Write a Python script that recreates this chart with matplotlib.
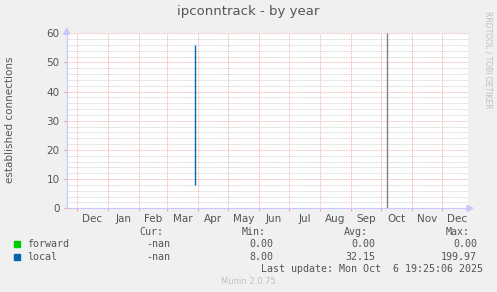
import matplotlib
matplotlib.use("Agg")
import matplotlib.pyplot as plt
import matplotlib.dates as mdates
import numpy as np
from datetime import datetime, timedelta

title = "ipconntrack - by year"
ylabel = "established connections"
x_start = "2024-11-20 16:00"
x_end = "2025-12-27 00:00"
month_bounds = ["2024-12-01", "2025-01-01", "2025-02-01", "2025-03-01", "2025-04-01",
                "2025-05-01", "2025-06-01", "2025-07-01", "2025-08-01", "2025-09-01",
                "2025-10-01", "2025-11-01", "2025-12-01", "2026-01-01"]
month_labels = ["Dec", "Jan", "Feb", "Mar", "Apr", "May", "Jun", "Jul", "Aug", "Sep", "Oct", "Nov", "Dec"]
y_major = [0, 10, 20, 30, 40, 50, 60]
local_dates = ["2025-03-29"]
local_low = [8]
local_high = [56]
forward_dates = ["2025-03-29"]
forward_vals = [0]
now_date = "2025-10-06 19:25"
legend_names = ["forward", "local"]
legend_colors = ["#00CC00", "#0066B3"]
cur_vals = ["-nan", "-nan"]
min_vals = ["0.00", "8.00"]
avg_vals = ["0.00", "32.15"]
max_vals = ["0.00", "199.97"]
last_update = "Last update: Mon Oct  6 19:25:06 2025"
footer = "Munin 2.0.75"

W, H = 497, 292
fig = plt.figure(figsize=(W / 100, H / 100), dpi=100, facecolor="#F0F0F0")

def fx(px):
    return px / W

def fy(py):
    return 1 - py / H

L, R, T, B = 66.7, 468.0, 33.3, 208.3
ax = fig.add_axes([fx(L), fy(B), fx(R - L), (B - T) / H])
ax.set_facecolor("white")

d = lambda s: mdates.date2num(datetime.fromisoformat(s))
ax.set_xlim(d(x_start), d(x_end))
ax.set_ylim(0, 60)

# grids
for y in np.arange(0, 61, 2):
    if y % 10 != 0:
        ax.axhline(y, color="#C8C8C8", lw=0.6, ls=(0, (1, 1)), zorder=1)
for y in y_major[1:]:
    ax.axhline(y, color="#F4A0A0", lw=0.6, ls=(0, (1, 1)), zorder=1.5)
bounds = [d(m) for m in month_bounds]
for b in bounds:
    if d(x_start) < b < d(x_end):
        ax.axvline(b, color="#F4A0A0", lw=0.6, ls=(0, (1, 1)), zorder=1.5)

# data
ax.vlines([d(x) for x in local_dates], local_low, local_high, color=legend_colors[1], lw=1.0, zorder=3)
ax.plot([d(x) for x in forward_dates], forward_vals, color=legend_colors[0], lw=1.0, zorder=3)
ax.vlines([d(now_date)], 0, 60, color="#808080", lw=1.0, zorder=3)

# ticks
ax.set_yticks(y_major)
ax.set_yticklabels([str(v) for v in y_major])
major_x = [b for b in bounds if d(x_start) < b < d(x_end)]
ax.set_xticks(major_x)
ax.set_xticklabels([""] * len(major_x))
mids = [(bounds[i] + bounds[i + 1]) / 2 for i in range(len(month_labels))]
ax.set_xticks(mids, minor=True)
ax.set_xticklabels(month_labels, minor=True)
ax.tick_params(axis="x", which="major", length=2, color="#F4A0A0", width=0.8)
ax.tick_params(axis="x", which="minor", length=0, pad=4, labelsize=7.5, labelcolor="#555555")
ax.tick_params(axis="y", length=2, color="#F4A0A0", labelsize=7.5, labelcolor="#555555", pad=3)

for s in ["top", "right"]:
    ax.spines[s].set_visible(False)
for s in ["left", "bottom"]:
    ax.spines[s].set_color("#C8C8FF")
    ax.spines[s].set_linewidth(0.8)

# axis arrows
fig.patches.append(plt.Polygon([[fx(R - 1), fy(B - 3)], [fx(R - 1), fy(B + 3)], [fx(R + 5), fy(B)]],
                               closed=True, transform=fig.transFigure, color="#C8C8FF"))
fig.patches.append(plt.Polygon([[fx(L - 3), fy(T + 1)], [fx(L + 3), fy(T + 1)], [fx(L), fy(T - 5)]],
                               closed=True, transform=fig.transFigure, color="#C8C8FF"))

fig.text(fx(248), fy(12), title, ha="center", va="center", fontsize=9.5, color="#555555")
fig.text(fx(10), fy(120), ylabel, ha="center", va="center", rotation=90, fontsize=7.5, color="#555555")
fig.text(fx(488), fy(60), "RRDTOOL / TOBI OETIKER", ha="center", va="center", rotation=270,
         fontsize=5.5, color="#C0C0C0")

mono = dict(family="DejaVu Sans Mono", fontsize=7.2, color="#555555", va="center")
fig.text(fx(163), fy(232), "Cur:", ha="right", **mono)
fig.text(fx(266), fy(232), "Min:", ha="right", **mono)
fig.text(fx(368), fy(232), "Avg:", ha="right", **mono)
fig.text(fx(470), fy(232), "Max:", ha="right", **mono)
rows_y = [244, 256.5]
for i, name in enumerate(legend_names):
    y = rows_y[i]
    fig.patches.append(plt.Rectangle((fx(14), fy(y + 3)), fx(6), 6 / H, transform=fig.transFigure,
                                     color=legend_colors[i]))
    fig.text(fx(27), fy(y), name, ha="left", **mono)
    fig.text(fx(170), fy(y), cur_vals[i], ha="right", **mono)
    fig.text(fx(273), fy(y), min_vals[i], ha="right", **mono)
    fig.text(fx(375), fy(y), avg_vals[i], ha="right", **mono)
    fig.text(fx(477), fy(y), max_vals[i], ha="right", **mono)
fig.text(fx(483), fy(268.5), last_update, ha="right", **mono)
fig.text(fx(248), fy(281), footer, ha="center", va="center", fontsize=6, color="#C0C0C0")

fig.savefig("out.png", dpi=100, facecolor=fig.get_facecolor())
